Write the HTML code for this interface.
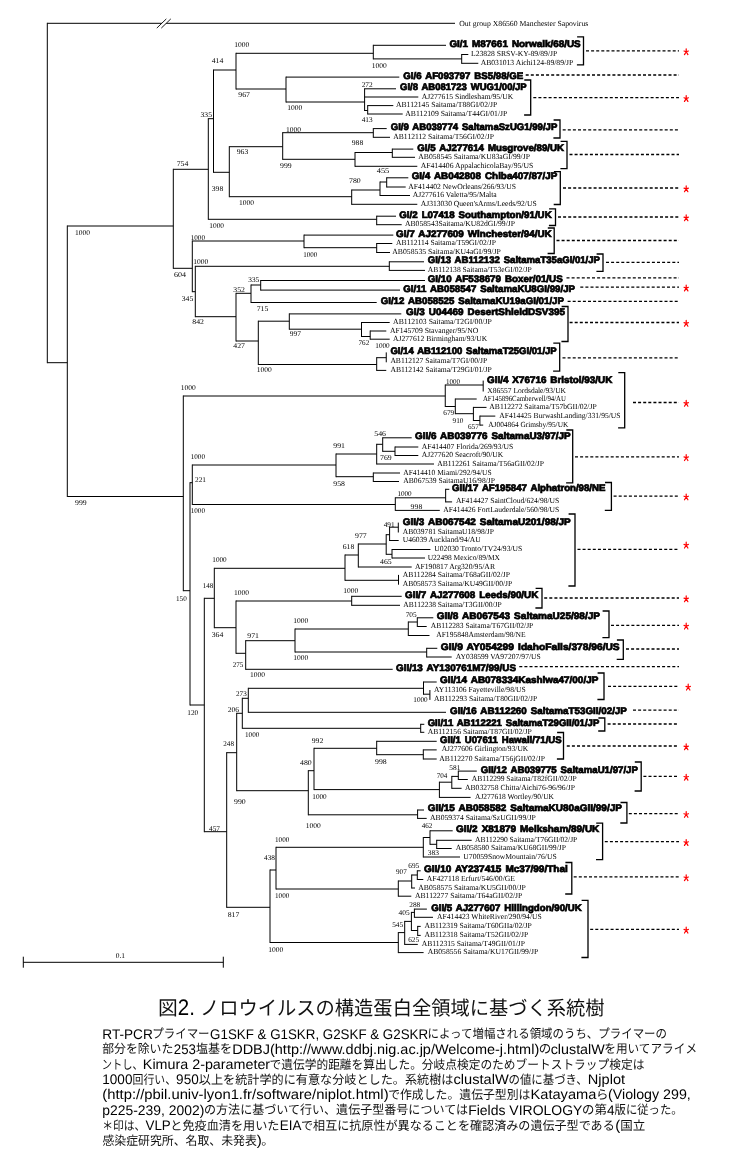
<!DOCTYPE html>
<html lang="ja">
<head>
<meta charset="utf-8">
<title>図2. ノロウイルスの構造蛋白全領域に基づく系統樹</title>
<style>
html,body{margin:0;padding:0;background:#fff;}
body{width:731px;height:1162px;overflow:hidden;font-family:"Liberation Sans",sans-serif;}
svg{display:block;}
text{fill:#000;text-rendering:geometricPrecision;}
.s{font-family:"Liberation Serif",serif;font-size:7.8px;}
.n{font-family:"Liberation Serif",serif;font-size:7.3px;}
.b{font-family:"Liberation Sans",sans-serif;font-weight:bold;font-size:9.5px;stroke:#000;stroke-width:0.72px;stroke-linejoin:miter;word-spacing:1.2px;}
.c{font-family:"Liberation Sans",sans-serif;fill:#000;}
.k{font-family:"Liberation Sans","Noto Sans CJK JP",sans-serif;font-size:12.5px;fill:#111;}
.kt{font-family:"Liberation Sans","Noto Sans CJK JP",sans-serif;font-size:19.8px;fill:#111;}
.j{fill:#111;}
</style>
</head>
<body>
<svg style="will-change:transform" width="731" height="1162" viewBox="0 0 731 1162" role="img" aria-label="Phylogenetic tree of norovirus capsid region">
<rect width="731" height="1162" fill="#fff"/>
<g id="tree">
<path d="M47.3 22.8V363.2M47.3 23.3H455M47.3 362.7H67.3M67.3 225.5V497M67.3 226H173.3M173.3 168.8V268.8M173.3 169.3H208.3M208.3 118.2V219.8M208.3 118.7H213.5M213.5 69.5V172.8M213.5 70H236M236 52.8V89.5M236 53.3H373.3M373.3 44.8V59.4M373.3 45.3H446M373.3 58.9H461.7M461.7 54V63.8M461.7 54.5H468.3M461.7 63.3H478.3M236 89H286M286 76.6V102.5M286 77.1H399.3M286 102H364.6M364.6 88.3V111M364.6 88.8H396M364.6 97H418.3M364.6 110.5H367.7M367.7 105.1V114.5M367.7 105.6H393.3M367.7 114H402.7M213.5 172.3H229.3M229.3 146.2V197.2M229.3 146.7H282.7M282.7 132.2V159.8M282.7 132.7H373.3M373.3 128.1V137.8M373.3 128.6H386.7M373.3 137.3H390M282.7 159.3H355M355 152V166.8M355 152.5H392.3M392.3 148.6V157.8M392.3 149.1H413.3M392.3 157.3H415M355 166.3H417.3M229.3 196.7H351.7M351.7 189.5V204.8M351.7 190H380M380 181.5V196M380 182H386.7M386.7 177.3V187.5M386.7 177.8H408.3M386.7 187H405.7M380 195.5H410M351.7 204.3H417.3M208.3 219.3H376.7M376.7 215.7V225.2M376.7 216.2H396M376.7 224.7H401.7M173.3 268.3H192.3M192.3 240.5V292.2M192.3 241H304M304 234.6V248.2M304 235.1H393.3M304 247.7H376.7M376.7 243V253M376.7 243.5H392.3M376.7 252.5H390M192.3 291.7H195.3M195.3 265.8V317.2M195.3 266.3H389.3M389.3 261.3V270.9M389.3 261.8H424M389.3 270.4H425M195.3 316.7H236M236 292.8V341.5M236 293.3H251M251 284.5V303M251 285H260.7M260.7 280V290.6M260.7 280.5H425M260.7 290.1H400M251 302.5H376.7M236 341H258.3M258.3 320.7V365M258.3 321.2H289.3M289.3 313.4V329.7M289.3 313.9H401.3M289.3 329.2H361.5M361.5 322V337M361.5 322.5H389.7M361.5 336.5H370.2M370.2 330.5V339.7M370.2 331H386.3M370.2 339.2H389.7M258.3 364.5H376.7M376.7 357.2V370.9M376.7 357.7H386.25M386.25 352.4V362.3M376.7 370.4H386.25M67.3 496.5H183.3M183.3 395.5V591.2M183.3 396H445.25M445.25 384.5V407M445.25 385H483.2M483.2 380.6V391.5M445.25 406.5H455.3M455.3 398.5V414.2M455.3 399H476.7M455.3 413.7H473.4M473.4 406.9V421M473.4 407.4H486.5M473.4 420.5H479.9M479.9 415.6V425.6M479.9 416.1H495.3M479.9 425.1H483.2M183.3 590.7H190M190 482.2V705.5M190 482.7H192.3M192.3 464.5V505M192.3 465H336M336 453.5V477.2M336 454H376.7M376.7 443.8V464.5M376.7 444.3H382.7M382.7 437.3V451.8M382.7 437.8H411.7M382.7 451.3H395M395 446.5V456M395 447H418.3M395 455.5H418.3M376.7 464H434M336 476.7H373.3M373.3 472.5V482M373.3 473H400M373.3 481.5H399M192.3 504.5H395.3M395.3 497.3V510.9M395.3 497.8H445.65M445.65 488.8V502.4M445.65 489.3H449.3M445.65 501.9H452.1M395.3 510.4H439.8M190 705H204.3M204.3 597.8V832.2M204.3 598.3H214.3M214.3 567.8V628.2M214.3 568.3H345M345 554.5V580.8M345 555H358.3M358.3 543.5V567.5M358.3 544H386.2M386.2 534.2V554.8M386.2 534.7H389.6M389.6 526.7V541M389.6 527.2H398.3M398.3 522.6V532.5M389.6 540.5H398.7M386.2 554.3H392M392 549V558.5M392 549.5H430.4M392 558H425M358.3 567H411.7M345 580.3H398.5M398.5 574.9V584.7M214.3 627.7H236M236 600.5V653.8M236 601H351.7M351.7 595.8V605.8M351.7 596.3H401.7M351.7 605.3H400M236 653.3H245.7M245.7 640.2V669.8M245.7 640.7H295M295 628.5V652.5M295 629H408.3M408.3 621.5V636M408.3 622H417.3M417.3 617.3V627M417.3 617.8H433.3M417.3 626.5H426.7M408.3 635.5H429.5M295 652H426.7M426.7 647.8V657.5M426.7 648.3H437.3M426.7 657H451.7M245.7 669.3H392.7M204.3 831.7H226.7M226.7 752.2V907.8M226.7 752.7H236.7M236.7 712.8V791.2M236.7 713.3H242.3M242.3 697.8V728.8M242.3 698.3H248.3M248.3 687.8V712.8M248.3 688.3H423.5M423.5 681.5V694.7M423.5 682H436.7M423.5 694.2H429.9M429.9 690V699.9M248.3 712.3H446M242.3 728.3H420.7M420.7 723.8V732.8M420.7 724.3H424.3M420.7 732.3H424.3M236.7 790.7H308.3M308.3 770.2V815.3M308.3 770.7H314M314 747.8V790.1M314 748.3H376.7M376.7 740.8V755.2M376.7 741.3H436.7M376.7 754.7H423.3M423.3 749.4V759.5M423.3 749.9H436.7M423.3 759H436.7M314 789.6H439.4M439.4 781.7V797.9M439.4 782.2H451.8M451.8 775.9V788.8M451.8 776.4H458.3M458.3 770.6V780M458.3 771.1H476.8M458.3 779.5H467.8M451.8 788.3H461.6M439.4 797.4H470.6M308.3 814.8H417.6M417.6 809.5V818.9M417.6 810H424M417.6 818.4H426.7M226.7 907.3H270M270 869.5V943M270 870H276M276 846.8V889.5M276 847.3H423.3M423.3 837V857.5M423.3 837.5H430M430 830.3V844.8M430 830.8H452.7M430 844.3H436.7M436.7 839.8V849M436.7 840.3H471.7M436.7 848.5H451.7M423.3 857H460M276 889H398.3M398.3 880.5V896.7M398.3 881H411.7M411.7 874.5V888.5M411.7 875H417.3M417.3 870.3V880M417.3 870.8H420.7M417.3 879.5H423.3M411.7 888H415M398.3 896.2H411.3M270 942.5H398.3M398.3 932.1V953.1M398.3 932.6H404.7M404.7 920.9V944.9M404.7 921.4H411.4M411.4 911.9V931M411.4 912.4H414.4M414.4 908.6V917.8M414.4 909.1H426.9M414.4 917.3H433M411.4 930.5H417.7M417.7 925.9V935.9M417.7 926.4H420.7M417.7 935.4H420.7M404.7 944.4H417.8M398.3 952.6H423.6" fill="none" stroke="#000" stroke-width="1"/>
<path d="M156.8 28.1L166.3 18.9L170.8 18.9L161.3 28.1Z" fill="#fff" stroke="none"/>
<path d="M156.8 28.1L166.3 18.9M161.3 28.1L170.8 18.9" fill="none" stroke="#000" stroke-width="0.9"/>
<path d="M23.3 962.3H223.3M23.3 956.7V967.7M223.3 956.7V967.7" fill="none" stroke="#000" stroke-width="1"/>
<path d="M577.1 36.8H583.5V64.8H576.9M524.3 80H530.7V115H524.1M553.6 120H560V138H553.4M560.6 141.3H567V168.7H560.4M553.9 171.7H560.3V204.5H553.7M549.1 208.8H555.5V225.5H548.9M547.8 228H554.2V253.5H547.6M596.6 254H603V271.3H596.4M561.6 306.5H568V341.5H561.4M553.3 343.2H559.7V371.2H553.1M618.3 372.7H624.7V427.8H618.1M566.3 430H572.7V482.8H566.1M605 482.5H611.4V510.4H604.8M568.6 514H575V586H568.4M535.6 588.4H542V608H535.4M602.6 611H609V637.7H602.4M616.9 640H623.3V659.3H616.7M597.6 673H604V699.5H597.4M598.4 718H604.8V731H598.2M557.1 732.5H563.5V759H556.9M634.8 762H641.2V791H634.6M620.5 802.5H626.9V823H620.3M596.2 823.2H602.6V859.6H596M565.4 862.5H571.8V894H565.2M581.6 900.3H588V957.5H581.4" fill="none" stroke="#000" stroke-width="1.3"/>
<path d="M586 50.9H679M525.7 75H679M533.3 97.7H679M562.7 129.9H679M569.5 154.5H679M563 188H679M558 217H679M556.5 240.5H679M606 262.4H679M566.5 277.9H679M580.3 287.2H679M567.6 301.3H679M569.6 322.5H679M562.5 357.8H679M633 402.5H679M575 456.8H679M613.6 496.1H679M577.5 549.3H679M544.2 598H679M611 625.3H679M626 649H679M519.3 666.7H679M608 686.3H679M633 710.2H679M607.6 724H679M566.8 746H679M643.4 776.4H679M628.8 813.6H679M604.8 841.7H679M573.7 876.9H679M590.2 929.3H679" fill="none" stroke="#000" stroke-width="1.3" stroke-dasharray="3 2.1"/>
<path d="M686.2 51.8l0 -3M686.2 51.8l-2.2 -0.8M686.2 51.8l2.2 -0.8M686.2 51.8l-1.7 2.8M686.2 51.8l1.7 2.8M686.2 98.6l0 -3M686.2 98.6l-2.2 -0.8M686.2 98.6l2.2 -0.8M686.2 98.6l-1.7 2.8M686.2 98.6l1.7 2.8M686.2 188.9l0 -3M686.2 188.9l-2.2 -0.8M686.2 188.9l2.2 -0.8M686.2 188.9l-1.7 2.8M686.2 188.9l1.7 2.8M686.2 217.9l0 -3M686.2 217.9l-2.2 -0.8M686.2 217.9l2.2 -0.8M686.2 217.9l-1.7 2.8M686.2 217.9l1.7 2.8M686.2 288.1l0 -3M686.2 288.1l-2.2 -0.8M686.2 288.1l2.2 -0.8M686.2 288.1l-1.7 2.8M686.2 288.1l1.7 2.8M686.2 323.4l0 -3M686.2 323.4l-2.2 -0.8M686.2 323.4l2.2 -0.8M686.2 323.4l-1.7 2.8M686.2 323.4l1.7 2.8M686.2 403.4l0 -3M686.2 403.4l-2.2 -0.8M686.2 403.4l2.2 -0.8M686.2 403.4l-1.7 2.8M686.2 403.4l1.7 2.8M686.2 457.7l0 -3M686.2 457.7l-2.2 -0.8M686.2 457.7l2.2 -0.8M686.2 457.7l-1.7 2.8M686.2 457.7l1.7 2.8M686.2 497l0 -3M686.2 497l-2.2 -0.8M686.2 497l2.2 -0.8M686.2 497l-1.7 2.8M686.2 497l1.7 2.8M686.2 545.2l0 -3M686.2 545.2l-2.2 -0.8M686.2 545.2l2.2 -0.8M686.2 545.2l-1.7 2.8M686.2 545.2l1.7 2.8M686.2 598.9l0 -3M686.2 598.9l-2.2 -0.8M686.2 598.9l2.2 -0.8M686.2 598.9l-1.7 2.8M686.2 598.9l1.7 2.8M686.2 626.2l0 -3M686.2 626.2l-2.2 -0.8M686.2 626.2l2.2 -0.8M686.2 626.2l-1.7 2.8M686.2 626.2l1.7 2.8M688.2 687.2l0 -3M688.2 687.2l-2.2 -0.8M688.2 687.2l2.2 -0.8M688.2 687.2l-1.7 2.8M688.2 687.2l1.7 2.8M686.2 746.9l0 -3M686.2 746.9l-2.2 -0.8M686.2 746.9l2.2 -0.8M686.2 746.9l-1.7 2.8M686.2 746.9l1.7 2.8M686.2 777.3l0 -3M686.2 777.3l-2.2 -0.8M686.2 777.3l2.2 -0.8M686.2 777.3l-1.7 2.8M686.2 777.3l1.7 2.8M686.2 814.5l0 -3M686.2 814.5l-2.2 -0.8M686.2 814.5l2.2 -0.8M686.2 814.5l-1.7 2.8M686.2 814.5l1.7 2.8M686.2 842.6l0 -3M686.2 842.6l-2.2 -0.8M686.2 842.6l2.2 -0.8M686.2 842.6l-1.7 2.8M686.2 842.6l1.7 2.8M686.2 877.8l0 -3M686.2 877.8l-2.2 -0.8M686.2 877.8l2.2 -0.8M686.2 877.8l-1.7 2.8M686.2 877.8l1.7 2.8M686.2 930.2l0 -3M686.2 930.2l-2.2 -0.8M686.2 930.2l2.2 -0.8M686.2 930.2l-1.7 2.8M686.2 930.2l1.7 2.8" fill="none" stroke="#f00" stroke-width="1.2" stroke-linecap="round"/>
<text class="s" x="459.3" y="25.8" textLength="129" lengthAdjust="spacingAndGlyphs">Out group X86560 Manchester  Sapovirus</text>
<text class="b" x="449.4" y="46.7" textLength="131.3" lengthAdjust="spacingAndGlyphs">GI/1 M87661 Norwalk/68/US</text>
<text class="s" x="471" y="56" textLength="86.3" lengthAdjust="spacingAndGlyphs">L23828 SRSV-KY-89/89/JP</text>
<text class="s" x="480.7" y="64.8" textLength="92.6" lengthAdjust="spacingAndGlyphs">AB031013 Aichi124-89/89/JP</text>
<text class="b" x="403.3" y="78.5" textLength="120" lengthAdjust="spacingAndGlyphs">GI/6 AF093797 BS5/98/GE</text>
<text class="b" x="400" y="90.2" textLength="126.7" lengthAdjust="spacingAndGlyphs">GI/8 AB081723 WUG1/00/JP</text>
<text class="s" x="421.7" y="98.5" textLength="91.6" lengthAdjust="spacingAndGlyphs">AJ277615 Sindlesham/95/UK</text>
<text class="s" x="396" y="107.1" textLength="101.3" lengthAdjust="spacingAndGlyphs">AB112145 Saitama/T88GI/02/JP</text>
<text class="s" x="405.3" y="115.5" textLength="102" lengthAdjust="spacingAndGlyphs">AB112109 Saitama/T44GI/01/JP</text>
<text class="b" x="390.7" y="130" textLength="166.6" lengthAdjust="spacingAndGlyphs">GI/9 AB039774 SaitamaSzUG1/99/JP</text>
<text class="s" x="393.3" y="138.8" textLength="100.7" lengthAdjust="spacingAndGlyphs">AB112112 Saitama/T56GI/02/JP</text>
<text class="b" x="417.3" y="150.5" textLength="146.7" lengthAdjust="spacingAndGlyphs">GI/5 AJ277614 Musgrove/89/UK</text>
<text class="s" x="418.3" y="158.8" textLength="111.7" lengthAdjust="spacingAndGlyphs">AB058545 Saitama/KU83aGI/99/JP</text>
<text class="s" x="420.7" y="167.8" textLength="112.6" lengthAdjust="spacingAndGlyphs">AF414406 AppalachicolaBay/95/US</text>
<text class="b" x="411.7" y="179.2" textLength="145.6" lengthAdjust="spacingAndGlyphs">GI/4 AB042808 Chiba407/87/JP</text>
<text class="s" x="408.3" y="188.5" textLength="107.7" lengthAdjust="spacingAndGlyphs">AF414402 NewOrleans/266/93/US</text>
<text class="s" x="412.7" y="197" textLength="84" lengthAdjust="spacingAndGlyphs">AJ277616 Valetta/95/Malta</text>
<text class="s" x="420.7" y="205.8" textLength="116" lengthAdjust="spacingAndGlyphs">AJ313030 Queen'sArms/Leeds/92/US</text>
<text class="b" x="399.3" y="217.6" textLength="152.4" lengthAdjust="spacingAndGlyphs">GI/2 L07418 Southampton/91/UK</text>
<text class="s" x="405" y="226.2" textLength="110" lengthAdjust="spacingAndGlyphs">AB058543Saitama/KU82dGI/99/JP</text>
<text class="b" x="396" y="236.5" textLength="155.7" lengthAdjust="spacingAndGlyphs">GI/7 AJ277609 Winchester/94/UK</text>
<text class="s" x="396" y="245" textLength="100" lengthAdjust="spacingAndGlyphs">AB112114 Saitama/T59GI/02/JP</text>
<text class="s" x="392.3" y="254" textLength="108.4" lengthAdjust="spacingAndGlyphs">AB058535 Saitama/KU4aGI/99/JP</text>
<text class="b" x="427.7" y="263.2" textLength="172.3" lengthAdjust="spacingAndGlyphs">GI/13 AB112132 SaitamaT35aGI/01/JP</text>
<text class="s" x="427.7" y="271.9" textLength="104" lengthAdjust="spacingAndGlyphs">AB112138 Saitama/T53eGI/02/JP</text>
<text class="b" x="427.7" y="281.9" textLength="135" lengthAdjust="spacingAndGlyphs">GI/10 AF538679 Boxer/01/US</text>
<text class="b" x="403.3" y="291.5" textLength="171.7" lengthAdjust="spacingAndGlyphs">GI/11 AB058547 SaitamaKU8GI/99/JP</text>
<text class="b" x="380.7" y="303.9" textLength="183.3" lengthAdjust="spacingAndGlyphs">GI/12 AB058525 SaitamaKU19aGI/01/JP</text>
<text class="b" x="406" y="315.3" textLength="159" lengthAdjust="spacingAndGlyphs">GI/3 U04469 DesertShieldDSV395</text>
<text class="s" x="393.1" y="324" textLength="98.6" lengthAdjust="spacingAndGlyphs">AB112103 Saitama/T2GI/00/JP</text>
<text class="s" x="390" y="332.5" textLength="88.3" lengthAdjust="spacingAndGlyphs">AF145709 Stavanger/95/NO</text>
<text class="s" x="393.1" y="340.7" textLength="94.2" lengthAdjust="spacingAndGlyphs">AJ277612 Birmingham/93/UK</text>
<text class="b" x="390.4" y="354.3" textLength="166.3" lengthAdjust="spacingAndGlyphs">GI/14 AB112100 SaitamaT25GI/01/JP</text>
<text class="s" x="390.4" y="363.3" textLength="96.9" lengthAdjust="spacingAndGlyphs">AB112127 Saitama/T7GI/00/JP</text>
<text class="s" x="390.4" y="371.9" textLength="101.3" lengthAdjust="spacingAndGlyphs">AB112142 Saitama/T29GI/01/JP</text>
<text class="b" x="487" y="382.5" textLength="125.3" lengthAdjust="spacingAndGlyphs">GII/4 X76716 Bristol/93/UK</text>
<text class="s" x="487.3" y="392.5" textLength="78.7" lengthAdjust="spacingAndGlyphs">X86557 Lordsdale/93/UK</text>
<text class="s" x="482.9" y="400.5" textLength="83.1" lengthAdjust="spacingAndGlyphs">AF145896Camberwell/94/AU</text>
<text class="s" x="489.3" y="408.9" textLength="107.4" lengthAdjust="spacingAndGlyphs">AB112272 Saitama/T57bGII/02/JP</text>
<text class="s" x="499.3" y="417.6" textLength="121.2" lengthAdjust="spacingAndGlyphs">AF414425 BurwashLanding/331/95/US</text>
<text class="s" x="488.3" y="426.6" textLength="80" lengthAdjust="spacingAndGlyphs">AJ004864 Grimsby/95/UK</text>
<text class="b" x="415" y="439.2" textLength="155.7" lengthAdjust="spacingAndGlyphs">GII/6 AB039776 SaitamaU3/97/JP</text>
<text class="s" x="421.7" y="448.5" textLength="91.6" lengthAdjust="spacingAndGlyphs">AF414407 Florida/269/93/US</text>
<text class="s" x="421.7" y="457" textLength="81.6" lengthAdjust="spacingAndGlyphs">AJ277620 Seacroft/90/UK</text>
<text class="s" x="437.3" y="465.5" textLength="106.7" lengthAdjust="spacingAndGlyphs">AB112261 Saitama/T56aGII/02/JP</text>
<text class="s" x="403.3" y="474.5" textLength="88.4" lengthAdjust="spacingAndGlyphs">AF414410 Miami/292/94/US</text>
<text class="s" x="403.3" y="483" textLength="91.7" lengthAdjust="spacingAndGlyphs">AB067539 SaitamaU16/98/JP</text>
<text class="b" x="452.1" y="490.7" textLength="153.3" lengthAdjust="spacingAndGlyphs">GII/17 AF195847 Alphatron/98/NE</text>
<text class="s" x="455.9" y="503.4" textLength="103.4" lengthAdjust="spacingAndGlyphs">AF414427 SaintCloud/624/98/US</text>
<text class="s" x="443.2" y="511.9" textLength="116.1" lengthAdjust="spacingAndGlyphs">AF414426 FortLauderdale/560/98/US</text>
<text class="b" x="402.8" y="524.5" textLength="167.9" lengthAdjust="spacingAndGlyphs">GII/3 AB067542 SaitamaU201/98/JP</text>
<text class="s" x="402.8" y="533.5" textLength="91.2" lengthAdjust="spacingAndGlyphs">AB039781 SaitamaU18/98/JP</text>
<text class="s" x="402.8" y="542" textLength="77.9" lengthAdjust="spacingAndGlyphs">U46039 Auckland/94/AU</text>
<text class="s" x="434.3" y="551" textLength="88" lengthAdjust="spacingAndGlyphs">U02030 Tronto/TV24/93/US</text>
<text class="s" x="427.7" y="559.5" textLength="72.3" lengthAdjust="spacingAndGlyphs">U22498 Mexico/89/MX</text>
<text class="s" x="415" y="568.5" textLength="80" lengthAdjust="spacingAndGlyphs">AF190817 Arg320/95/AR</text>
<text class="s" x="402.7" y="576.9" textLength="107.3" lengthAdjust="spacingAndGlyphs">AB112284 Saitama/T68aGII/02/JP</text>
<text class="s" x="402.7" y="585.7" textLength="109.6" lengthAdjust="spacingAndGlyphs">AB058573 Saitama/KU49GII/00/JP</text>
<text class="b" x="405" y="597.7" textLength="133.3" lengthAdjust="spacingAndGlyphs">GII/7 AJ277608 Leeds/90/UK</text>
<text class="s" x="403.3" y="606.8" textLength="98.4" lengthAdjust="spacingAndGlyphs">AB112238 Saitama/T3GII/00/JP</text>
<text class="b" x="436.7" y="619.2" textLength="163.3" lengthAdjust="spacingAndGlyphs">GII/8 AB067543 SaitamaU25/98/JP</text>
<text class="s" x="430.8" y="628" textLength="102.5" lengthAdjust="spacingAndGlyphs">AB112283 Saitama/T67GII/02/JP</text>
<text class="s" x="436.2" y="637" textLength="89.5" lengthAdjust="spacingAndGlyphs">AF195848Amsterdam/98/NE</text>
<text class="b" x="440.7" y="649.7" textLength="179" lengthAdjust="spacingAndGlyphs">GII/9 AY054299 IdahoFalls/378/96/US</text>
<text class="s" x="455.7" y="658.5" textLength="85" lengthAdjust="spacingAndGlyphs">AY038599 VA97207/97/US</text>
<text class="b" x="396" y="670.7" textLength="120" lengthAdjust="spacingAndGlyphs">GII/13 AY130761M7/99/US</text>
<text class="b" x="440" y="683.4" textLength="158.3" lengthAdjust="spacingAndGlyphs">GII/14 AB078334Kashiwa47/00/JP</text>
<text class="s" x="434" y="692" textLength="91.7" lengthAdjust="spacingAndGlyphs">AY113106 Fayetteville/98/US</text>
<text class="s" x="434" y="700.9" textLength="103.3" lengthAdjust="spacingAndGlyphs">AB112293 Saitama/T80GII/02/JP</text>
<text class="b" x="450" y="713.7" textLength="176.9" lengthAdjust="spacingAndGlyphs">GII/16 AB112260 SaitamaT53GII/02/JP</text>
<text class="b" x="427.7" y="725.7" textLength="171.6" lengthAdjust="spacingAndGlyphs">GII/11 AB112221 SaitamaT29GII/01/JP</text>
<text class="s" x="427.7" y="733.8" textLength="104" lengthAdjust="spacingAndGlyphs">AB112156 Saitama/T87GII/02/JP</text>
<text class="b" x="440" y="742.7" textLength="121.7" lengthAdjust="spacingAndGlyphs">GII/1 U07611 Hawaii/71/US</text>
<text class="s" x="441.7" y="751.4" textLength="86.6" lengthAdjust="spacingAndGlyphs">AJ277606 Girlington/93/UK</text>
<text class="s" x="439.3" y="760.5" textLength="105.7" lengthAdjust="spacingAndGlyphs">AB112270 Saitama/T56jGII/02/JP</text>
<text class="b" x="480.7" y="772.5" textLength="157.2" lengthAdjust="spacingAndGlyphs">GII/12 AB039775 SaitamaU1/97/JP</text>
<text class="s" x="471.7" y="781" textLength="105" lengthAdjust="spacingAndGlyphs">AB112299 Saitama/T82fGII/02/JP</text>
<text class="s" x="465" y="789.8" textLength="110" lengthAdjust="spacingAndGlyphs">AB032758 Chitta/Aichi76-96/96/JP</text>
<text class="s" x="475" y="798.9" textLength="79" lengthAdjust="spacingAndGlyphs">AJ277618 Wortley/90/UK</text>
<text class="b" x="427.7" y="811.4" textLength="194.2" lengthAdjust="spacingAndGlyphs">GII/15 AB058582 SaitamaKU80aGII/99/JP</text>
<text class="s" x="430" y="819.9" textLength="105.7" lengthAdjust="spacingAndGlyphs">AB059374 Saitama/SzUGII/99/JP</text>
<text class="b" x="456" y="832.2" textLength="143.3" lengthAdjust="spacingAndGlyphs">GII/2 X81879 Melksham/89/UK</text>
<text class="s" x="475" y="841.8" textLength="102.3" lengthAdjust="spacingAndGlyphs">AB112290 Saitama/T76GII/02/JP</text>
<text class="s" x="455.7" y="850" textLength="110.3" lengthAdjust="spacingAndGlyphs">AB058580 Saitama/KU68GII/99/JP</text>
<text class="s" x="463.3" y="858.5" textLength="93.4" lengthAdjust="spacingAndGlyphs">U70059SnowMountain/76/US</text>
<text class="b" x="424" y="872.2" textLength="143.8" lengthAdjust="spacingAndGlyphs">GII/10 AY237415 Mc37/99/Thai</text>
<text class="s" x="426.7" y="881" textLength="88.3" lengthAdjust="spacingAndGlyphs">AF427118 Erfurt/546/00/GE</text>
<text class="s" x="418.3" y="889.5" textLength="107.4" lengthAdjust="spacingAndGlyphs">AB058575 Saitama/KU5GII/00/JP</text>
<text class="s" x="415" y="897.7" textLength="107.3" lengthAdjust="spacingAndGlyphs">AB112277 Saitama/T64aGII/02/JP</text>
<text class="b" x="431.2" y="910.5" textLength="150.5" lengthAdjust="spacingAndGlyphs">GII/5 AJ277607 Hillingdon/90/UK</text>
<text class="s" x="437.1" y="918.8" textLength="104.6" lengthAdjust="spacingAndGlyphs">AF414423 WhiteRiver/290/94/US</text>
<text class="s" x="424.4" y="927.9" textLength="107.3" lengthAdjust="spacingAndGlyphs">AB112319 Saitama/T60GIIa/02/JP</text>
<text class="s" x="424.4" y="936.9" textLength="103.9" lengthAdjust="spacingAndGlyphs">AB112318 Saitama/T52GII/02/JP</text>
<text class="s" x="421.8" y="945.9" textLength="103.2" lengthAdjust="spacingAndGlyphs">AB112315 Saitama/T49GII/01/JP</text>
<text class="s" x="427.7" y="954.1" textLength="110.6" lengthAdjust="spacingAndGlyphs">AB058556 Saitama/KU17GII/99/JP</text>
<text class="n" x="234.3" y="46.8" textLength="15" lengthAdjust="spacingAndGlyphs">1000</text>
<text class="n" x="211.7" y="62.5" textLength="11.6" lengthAdjust="spacingAndGlyphs">414</text>
<text class="n" x="371.7" y="68.2" textLength="15" lengthAdjust="spacingAndGlyphs">1000</text>
<text class="n" x="238.3" y="96.8" textLength="11.7" lengthAdjust="spacingAndGlyphs">967</text>
<text class="n" x="361.7" y="86.5" textLength="11" lengthAdjust="spacingAndGlyphs">272</text>
<text class="n" x="287.3" y="109.8" textLength="15" lengthAdjust="spacingAndGlyphs">1000</text>
<text class="n" x="361.7" y="121.5" textLength="11" lengthAdjust="spacingAndGlyphs">413</text>
<text class="n" x="200.5" y="116.8" textLength="11.5" lengthAdjust="spacingAndGlyphs">335</text>
<text class="n" x="286" y="131.5" textLength="15" lengthAdjust="spacingAndGlyphs">1000</text>
<text class="n" x="351.7" y="144.8" textLength="11.6" lengthAdjust="spacingAndGlyphs">988</text>
<text class="n" x="236.7" y="154.2" textLength="11.6" lengthAdjust="spacingAndGlyphs">963</text>
<text class="n" x="280" y="168.2" textLength="11.7" lengthAdjust="spacingAndGlyphs">999</text>
<text class="n" x="376.7" y="172.8" textLength="12.6" lengthAdjust="spacingAndGlyphs">455</text>
<text class="n" x="349" y="183.2" textLength="11.7" lengthAdjust="spacingAndGlyphs">780</text>
<text class="n" x="211.7" y="190.8" textLength="11.6" lengthAdjust="spacingAndGlyphs">398</text>
<text class="n" x="176.7" y="165.8" textLength="11.6" lengthAdjust="spacingAndGlyphs">754</text>
<text class="n" x="239" y="204.8" textLength="15" lengthAdjust="spacingAndGlyphs">1000</text>
<text class="n" x="209.3" y="227.5" textLength="14.7" lengthAdjust="spacingAndGlyphs">1000</text>
<text class="n" x="190.7" y="239.8" textLength="14.3" lengthAdjust="spacingAndGlyphs">1000</text>
<text class="n" x="303.3" y="256.5" textLength="14" lengthAdjust="spacingAndGlyphs">1000</text>
<text class="n" x="193.3" y="263.5" textLength="15" lengthAdjust="spacingAndGlyphs">1000</text>
<text class="n" x="174" y="276.5" textLength="12" lengthAdjust="spacingAndGlyphs">604</text>
<text class="n" x="248.3" y="281.8" textLength="11" lengthAdjust="spacingAndGlyphs">335</text>
<text class="n" x="233.3" y="291.8" textLength="11.7" lengthAdjust="spacingAndGlyphs">352</text>
<text class="n" x="181.7" y="300.8" textLength="11.6" lengthAdjust="spacingAndGlyphs">345</text>
<text class="n" x="256.7" y="310.8" textLength="11.6" lengthAdjust="spacingAndGlyphs">715</text>
<text class="n" x="192.3" y="324.2" textLength="11.7" lengthAdjust="spacingAndGlyphs">842</text>
<text class="n" x="289.8" y="336.4" textLength="11.2" lengthAdjust="spacingAndGlyphs">997</text>
<text class="n" x="233.3" y="348.2" textLength="11.7" lengthAdjust="spacingAndGlyphs">427</text>
<text class="n" x="358.5" y="344.7" textLength="10.7" lengthAdjust="spacingAndGlyphs">762</text>
<text class="n" x="375.3" y="347.9" textLength="14.4" lengthAdjust="spacingAndGlyphs">1000</text>
<text class="n" x="256.7" y="371.5" textLength="15" lengthAdjust="spacingAndGlyphs">1000</text>
<text class="n" x="75" y="234.8" textLength="15" lengthAdjust="spacingAndGlyphs">1000</text>
<text class="n" x="75" y="504.8" textLength="11.7" lengthAdjust="spacingAndGlyphs">999</text>
<text class="n" x="180.7" y="390.2" textLength="15" lengthAdjust="spacingAndGlyphs">1000</text>
<text class="n" x="446" y="384.2" textLength="14" lengthAdjust="spacingAndGlyphs">1000</text>
<text class="n" x="443.3" y="415.4" textLength="10.9" lengthAdjust="spacingAndGlyphs">679</text>
<text class="n" x="452.6" y="423" textLength="10.9" lengthAdjust="spacingAndGlyphs">910</text>
<text class="n" x="467.9" y="429" textLength="10.9" lengthAdjust="spacingAndGlyphs">657</text>
<text class="n" x="374.3" y="435.8" textLength="11.7" lengthAdjust="spacingAndGlyphs">546</text>
<text class="n" x="333.3" y="448.2" textLength="11.7" lengthAdjust="spacingAndGlyphs">991</text>
<text class="n" x="380" y="459.5" textLength="11.7" lengthAdjust="spacingAndGlyphs">769</text>
<text class="n" x="190.7" y="459.2" textLength="14.3" lengthAdjust="spacingAndGlyphs">1000</text>
<text class="n" x="195" y="481.5" textLength="11" lengthAdjust="spacingAndGlyphs">221</text>
<text class="n" x="333.3" y="485.8" textLength="11.7" lengthAdjust="spacingAndGlyphs">958</text>
<text class="n" x="397.4" y="495.8" textLength="14.3" lengthAdjust="spacingAndGlyphs">1000</text>
<text class="n" x="410.6" y="509.2" textLength="11.7" lengthAdjust="spacingAndGlyphs">998</text>
<text class="n" x="190.7" y="513.2" textLength="14.3" lengthAdjust="spacingAndGlyphs">1000</text>
<text class="n" x="383.7" y="527" textLength="10.9" lengthAdjust="spacingAndGlyphs">491</text>
<text class="n" x="355" y="538.2" textLength="11.7" lengthAdjust="spacingAndGlyphs">977</text>
<text class="n" x="342.7" y="549.2" textLength="11.6" lengthAdjust="spacingAndGlyphs">618</text>
<text class="n" x="380" y="563.5" textLength="11.7" lengthAdjust="spacingAndGlyphs">465</text>
<text class="n" x="212.3" y="561.8" textLength="14.4" lengthAdjust="spacingAndGlyphs">1000</text>
<text class="n" x="202.7" y="588.2" textLength="10.6" lengthAdjust="spacingAndGlyphs">148</text>
<text class="n" x="176" y="600.8" textLength="10.7" lengthAdjust="spacingAndGlyphs">150</text>
<text class="n" x="234" y="595.2" textLength="15" lengthAdjust="spacingAndGlyphs">1000</text>
<text class="n" x="343.3" y="593.2" textLength="15" lengthAdjust="spacingAndGlyphs">1000</text>
<text class="n" x="405.7" y="616.5" textLength="11" lengthAdjust="spacingAndGlyphs">705</text>
<text class="n" x="293.3" y="623.2" textLength="15" lengthAdjust="spacingAndGlyphs">1000</text>
<text class="n" x="211.7" y="636.8" textLength="11.6" lengthAdjust="spacingAndGlyphs">364</text>
<text class="n" x="247.3" y="638.2" textLength="11.7" lengthAdjust="spacingAndGlyphs">971</text>
<text class="n" x="293.3" y="660.2" textLength="15" lengthAdjust="spacingAndGlyphs">1000</text>
<text class="n" x="232.7" y="666.8" textLength="10.6" lengthAdjust="spacingAndGlyphs">275</text>
<text class="n" x="250" y="676.8" textLength="15" lengthAdjust="spacingAndGlyphs">1000</text>
<text class="n" x="236" y="695.5" textLength="10.7" lengthAdjust="spacingAndGlyphs">273</text>
<text class="n" x="413.3" y="701.8" textLength="14.4" lengthAdjust="spacingAndGlyphs">1000</text>
<text class="n" x="227.7" y="711.5" textLength="11.3" lengthAdjust="spacingAndGlyphs">206</text>
<text class="n" x="187.3" y="714.5" textLength="11" lengthAdjust="spacingAndGlyphs">120</text>
<text class="n" x="245" y="736.5" textLength="14.3" lengthAdjust="spacingAndGlyphs">1000</text>
<text class="n" x="311.7" y="742.5" textLength="11.6" lengthAdjust="spacingAndGlyphs">992</text>
<text class="n" x="223.3" y="745.8" textLength="10.7" lengthAdjust="spacingAndGlyphs">248</text>
<text class="n" x="375" y="763.5" textLength="11.7" lengthAdjust="spacingAndGlyphs">998</text>
<text class="n" x="300" y="764.8" textLength="11.7" lengthAdjust="spacingAndGlyphs">480</text>
<text class="n" x="449.3" y="769.9" textLength="11.1" lengthAdjust="spacingAndGlyphs">581</text>
<text class="n" x="436.7" y="778.2" textLength="10.6" lengthAdjust="spacingAndGlyphs">704</text>
<text class="n" x="312.3" y="799.2" textLength="14.4" lengthAdjust="spacingAndGlyphs">1000</text>
<text class="n" x="234" y="804.2" textLength="11.7" lengthAdjust="spacingAndGlyphs">990</text>
<text class="n" x="305.7" y="827.5" textLength="15" lengthAdjust="spacingAndGlyphs">1000</text>
<text class="n" x="209" y="830.8" textLength="11" lengthAdjust="spacingAndGlyphs">457</text>
<text class="n" x="421.7" y="827.5" textLength="10.6" lengthAdjust="spacingAndGlyphs">462</text>
<text class="n" x="275" y="841.5" textLength="14.3" lengthAdjust="spacingAndGlyphs">1000</text>
<text class="n" x="427.7" y="854.8" textLength="11.3" lengthAdjust="spacingAndGlyphs">383</text>
<text class="n" x="264" y="860.2" textLength="11" lengthAdjust="spacingAndGlyphs">438</text>
<text class="n" x="408.3" y="867.5" textLength="11" lengthAdjust="spacingAndGlyphs">695</text>
<text class="n" x="396" y="874.2" textLength="10.7" lengthAdjust="spacingAndGlyphs">907</text>
<text class="n" x="275" y="898.2" textLength="14.3" lengthAdjust="spacingAndGlyphs">1000</text>
<text class="n" x="409.2" y="906.7" textLength="11.1" lengthAdjust="spacingAndGlyphs">288</text>
<text class="n" x="398.5" y="915.4" textLength="11.1" lengthAdjust="spacingAndGlyphs">405</text>
<text class="n" x="227.7" y="916.8" textLength="11.6" lengthAdjust="spacingAndGlyphs">817</text>
<text class="n" x="392.2" y="926.7" textLength="11" lengthAdjust="spacingAndGlyphs">545</text>
<text class="n" x="408.2" y="941.8" textLength="10.9" lengthAdjust="spacingAndGlyphs">625</text>
<text class="n" x="268.3" y="951.5" textLength="15" lengthAdjust="spacingAndGlyphs">1000</text>
<text class="n" x="115.7" y="957.5" textLength="9.3" lengthAdjust="spacingAndGlyphs">0.1</text>
</g>
<g id="caption" class="j">
<desc>図2. ノロウイルスの構造蛋白全領域に基づく系統樹 RT-PCRプライマーG1SKF &amp; G1SKR, G2SKF &amp; G2SKRによって増幅される領域のうち、プライマーの部分を除いた253塩基をDDBJ(http://www.ddbj.nig.ac.jp/Welcome-j.html)のclustalWを用いてアライメントし、Kimura 2-parameterで遺伝学的距離を算出した。分岐点検定のためブートストラップ検定は1000回行い、950以上を統計学的に有意な分岐とした。系統樹はclustalWの値に基づき、Njplot(http://pbil.univ-lyon1.fr/software/niplot.html)で作成した。遺伝子型別はKatayamaら(Viology 299,p225-239, 2002)の方法に基づいて行い、遺伝子型番号についてはFields VIROLOGYの第4版に従った。＊印は、VLPと免疫血清を用いたEIAで相互に抗原性が異なることを確認済みの遺伝子型である(国立感染症研究所、名取、未発表)。</desc>
<text class="c" font-size="14" x="102.3" y="1038.5" textLength="50.43" lengthAdjust="spacingAndGlyphs" xml:space="preserve">RT-PCR</text>
<text class="k" x="152.21" y="1038.1" textLength="57.4" lengthAdjust="spacingAndGlyphs">プライマー</text>
<text class="c" font-size="14" x="210.08" y="1038.5" textLength="218.02" lengthAdjust="spacingAndGlyphs" xml:space="preserve">G1SKF &amp; G1SKR, G2SKF &amp; G2SKR</text>
<text class="k" x="427.58" y="1038.1" textLength="239.4" lengthAdjust="spacingAndGlyphs">によって増幅される領域のうち、プライマーの</text>
<text class="k" x="102.24" y="1053.34" textLength="71.1" lengthAdjust="spacingAndGlyphs">部分を除いた</text>
<text class="c" font-size="14" x="173.87" y="1053.74" textLength="22.08" lengthAdjust="spacingAndGlyphs" xml:space="preserve">253</text>
<text class="k" x="195.9" y="1053.34" textLength="36.2" lengthAdjust="spacingAndGlyphs">塩基を</text>
<text class="c" font-size="14" x="232.19" y="1053.74" textLength="307.03" lengthAdjust="spacingAndGlyphs" xml:space="preserve">DDBJ(http://www.ddbj.nig.ac.jp/Welcome-j.html)</text>
<text class="k" x="538.72" y="1053.34">の</text>
<text class="c" font-size="14" x="550.71" y="1053.74" textLength="54.06" lengthAdjust="spacingAndGlyphs" xml:space="preserve">clustalW</text>
<text class="k" x="604.25" y="1053.34" textLength="92.8" lengthAdjust="spacingAndGlyphs">を用いてアライメ</text>
<text class="k" x="101.75" y="1068.58" textLength="41" lengthAdjust="spacingAndGlyphs">ントし、</text>
<text class="c" font-size="14" x="142.89" y="1068.98" textLength="127.27" lengthAdjust="spacingAndGlyphs" xml:space="preserve">Kimura 2-parameter</text>
<text class="k" x="269.6" y="1068.58" textLength="374.8" lengthAdjust="spacingAndGlyphs">で遺伝学的距離を算出した。分岐点検定のためブートストラップ検定は</text>
<text class="c" font-size="14" x="102.3" y="1084.22" textLength="30.14" lengthAdjust="spacingAndGlyphs" xml:space="preserve">1000</text>
<text class="k" x="132.52" y="1083.82" textLength="43.5" lengthAdjust="spacingAndGlyphs">回行い、</text>
<text class="c" font-size="14" x="176.12" y="1084.22" textLength="22.6" lengthAdjust="spacingAndGlyphs" xml:space="preserve">950</text>
<text class="k" x="198.8" y="1083.82" textLength="254.6" lengthAdjust="spacingAndGlyphs">以上を統計学的に有意な分岐とした。系統樹は</text>
<text class="c" font-size="14" x="453.53" y="1084.22" textLength="55.33" lengthAdjust="spacingAndGlyphs" xml:space="preserve">clustalW</text>
<text class="k" x="508.48" y="1083.82" textLength="79.2" lengthAdjust="spacingAndGlyphs">の値に基づき、</text>
<text class="c" font-size="14" x="587.78" y="1084.22" textLength="37.32" lengthAdjust="spacingAndGlyphs" xml:space="preserve">Njplot</text>
<text class="c" font-size="14" x="102.3" y="1099.46" textLength="286.28" lengthAdjust="spacingAndGlyphs" xml:space="preserve">(http://pbil.univ-lyon1.fr/software/niplot.html)</text>
<text class="k" x="388.14" y="1099.06" textLength="142.3" lengthAdjust="spacingAndGlyphs">で作成した。遺伝子型別は</text>
<text class="c" font-size="14" x="530.53" y="1099.46" textLength="65.87" lengthAdjust="spacingAndGlyphs" xml:space="preserve">Katayama</text>
<text class="k" x="595.95" y="1099.06">ら</text>
<text class="c" font-size="14" x="608.01" y="1099.46" textLength="82.79" lengthAdjust="spacingAndGlyphs" xml:space="preserve">(Viology 299,</text>
<text class="c" font-size="14" x="102.3" y="1114.7" textLength="102.06" lengthAdjust="spacingAndGlyphs" xml:space="preserve">p225-239, 2002)</text>
<text class="k" x="204.01" y="1114.3" textLength="264" lengthAdjust="spacingAndGlyphs">の方法に基づいて行い、遺伝子型番号については</text>
<text class="c" font-size="14" x="468.19" y="1114.7" textLength="114.17" lengthAdjust="spacingAndGlyphs" xml:space="preserve">Fields VIROLOGY</text>
<text class="k" x="582.02" y="1114.3" textLength="24.8" lengthAdjust="spacingAndGlyphs">の第</text>
<text class="c" font-size="14" x="606.9" y="1114.7" textLength="7.57" lengthAdjust="spacingAndGlyphs" xml:space="preserve">4</text>
<text class="k" x="614.59" y="1114.3" textLength="68" lengthAdjust="spacingAndGlyphs">版に従った。</text>
<text class="k" x="102.31" y="1129.54" textLength="43" lengthAdjust="spacingAndGlyphs">＊印は、</text>
<text class="c" font-size="14" x="145.47" y="1129.94" textLength="25.31" lengthAdjust="spacingAndGlyphs" xml:space="preserve">VLP</text>
<text class="k" x="170.34" y="1129.54" textLength="109.1" lengthAdjust="spacingAndGlyphs">と免疫血清を用いた</text>
<text class="c" font-size="14" x="279.85" y="1129.94" textLength="21.58" lengthAdjust="spacingAndGlyphs" xml:space="preserve">EIA</text>
<text class="k" x="300.99" y="1129.54" textLength="313.8" lengthAdjust="spacingAndGlyphs">で相互に抗原性が異なることを確認済みの遺伝子型である</text>
<text class="c" font-size="14" x="615.21" y="1129.94" textLength="4.94" lengthAdjust="spacingAndGlyphs" xml:space="preserve">(</text>
<text class="k" x="620.17" y="1129.54" textLength="25" lengthAdjust="spacingAndGlyphs">国立</text>
<text class="k" x="102.47" y="1144.78" textLength="154.4" lengthAdjust="spacingAndGlyphs">感染症研究所、名取、未発表</text>
<text class="c" font-size="14" x="256.84" y="1145.18" textLength="5.06" lengthAdjust="spacingAndGlyphs" xml:space="preserve">)</text>
<text class="k" x="261.28" y="1144.78">。</text>
<text class="kt" x="158" y="1014.7">図</text>
<text class="c" font-size="22.5" x="177.81" y="1015.3" textLength="22.81" lengthAdjust="spacingAndGlyphs" xml:space="preserve">2. </text>
<text class="kt" x="200.02" y="1014.7" textLength="404.5" lengthAdjust="spacingAndGlyphs">ノロウイルスの構造蛋白全領域に基づく系統樹</text>
</g>
</svg>
</body>
</html>
